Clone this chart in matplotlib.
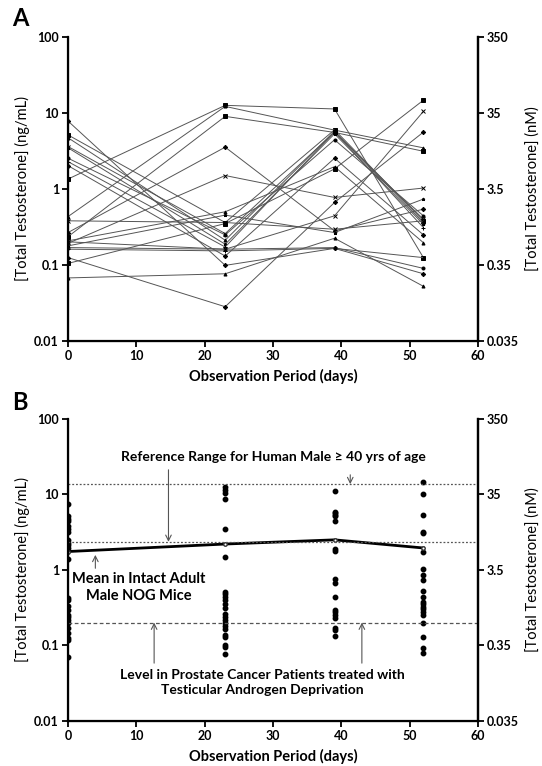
import matplotlib
matplotlib.use("Agg")
import matplotlib.pyplot as plt
from matplotlib.ticker import NullLocator, FixedLocator, FixedFormatter

plt.rcParams["font.family"] = ["Lato", "DejaVu Sans"]

# Observation days
days = [0, 23, 39, 52]

# Panel A: one value per mouse at each day (ng/mL)
a_day0 = [7.76, 5.1, 4.68, 3.59, 3.45, 2.52, 2.27, 2.01, 1.34, 0.43, 0.378,
          0.265, 0.234, 0.206, 0.191, 0.177, 0.168, 0.16, 0.124, 0.104, 0.067, 0.2]
a_day23 = [0.098, 0.359, 0.21, 0.257, 0.186, 0.247, 0.171, 0.13, 12.5, 12.1, 0.359,
           3.52, 8.95, 0.497, 1.49, 0.449, 0.16, 0.152, 0.028, 0.348, 0.076, 0.16]
a_day39 = [0.164, 5.96, 5.72, 5.55, 5.27, 4.40, 5.6, 2.52, 11.2, 5.9, 0.293,
           0.279, 5.5, 1.95, 0.767, 0.265, 0.168, 0.164, 0.659, 1.82, 0.223, 0.44]
a_day52 = [0.076, 0.378, 0.359, 0.397, 0.341, 0.44, 0.308, 0.247, 0.124, 3.45, 0.378,
           0.538, 3.11, 0.195, 1.02, 0.73, 0.0895, 0.124, 5.55, 14.6, 0.052, 10.4]

# Panel B: individual values per day (ng/mL)
b_day0 = [7.4, 5.1, 4.7, 4.4, 3.8, 3.5, 3.2, 2.5, 2.3, 2.15, 1.94, 1.4, 0.43, 0.40,
          0.33, 0.29, 0.25, 0.235, 0.217, 0.196, 0.168, 0.144, 0.124, 0.118, 0.069]
b_day23 = [12.5, 11.5, 10.4, 8.8, 3.5, 1.46, 0.51, 0.475, 0.434, 0.40, 0.354, 0.316,
           0.26, 0.24, 0.217, 0.196, 0.18, 0.163, 0.137, 0.13, 0.10, 0.096, 0.077]
b_day39 = [11.0, 5.9, 5.65, 5.4, 5.1, 4.4, 1.88, 1.79, 0.75, 0.665, 0.44, 0.294,
           0.274, 0.253, 0.228, 0.168, 0.16, 0.133]
b_day52 = [14.4, 10.1, 5.4, 3.2, 3.07, 1.75, 1.02, 0.86, 0.74, 0.53, 0.44, 0.38,
           0.354, 0.326, 0.30, 0.28, 0.253, 0.196, 0.128, 0.091, 0.078]
b_mean = [1.75, 2.2, 2.5, 1.95]

ref_high = 13.7
ref_low = 2.35
castrate_level = 0.2

y_ticks = [0.01, 0.1, 1, 10, 100]
y_labels = ["0.01", "0.1", "1", "10", "100"]
nm_ticks = [0.035, 0.35, 3.5, 35, 350]
nm_labels = ["0.035", "0.35", "3.5", "35", "350"]
x_ticks = [0, 10, 20, 30, 40, 50, 60]

markers = ["D", "s", "^", "x", "*", "o", "+", "D", "s", "^", "x"]


def style_axes(ax):
    ax.set_yscale("log")
    ax.set_ylim(0.01, 100)
    ax.set_xlim(0, 60)
    ax.yaxis.set_major_locator(FixedLocator(y_ticks))
    ax.yaxis.set_major_formatter(FixedFormatter(y_labels))
    ax.yaxis.set_minor_locator(NullLocator())
    ax.set_xticks(x_ticks)
    ax.spines["top"].set_visible(False)
    for s in ["left", "bottom", "right"]:
        ax.spines[s].set_linewidth(1.6)
    ax.tick_params(direction="out", length=4, width=1.3, labelsize=9, pad=2.5)
    for lab in ax.get_xticklabels() + ax.get_yticklabels():
        lab.set_fontweight("bold")
    ax.set_ylabel("[Total Testosterone] (ng/mL)", fontsize=10.5, labelpad=3)
    ax.set_xlabel("Observation Period (days)", fontsize=10.5, fontweight="bold", labelpad=5)

    tw = ax.twinx()
    tw.set_yscale("log")
    tw.set_ylim(0.035, 350)
    tw.yaxis.set_major_locator(FixedLocator(nm_ticks))
    tw.yaxis.set_major_formatter(FixedFormatter(nm_labels))
    tw.yaxis.set_minor_locator(NullLocator())
    tw.spines["top"].set_visible(False)
    tw.spines["right"].set_linewidth(1.6)
    tw.tick_params(direction="out", length=4, width=1.3, labelsize=9, pad=2)
    for lab in tw.get_yticklabels():
        lab.set_fontweight("bold")
    tw.set_ylabel("[Total Testosterone] (nM)", fontsize=10.5, labelpad=5)
    return tw


fig = plt.figure(figsize=(5.42, 7.66), dpi=100)

# Panel A
axA = fig.add_axes([0.1255, 0.5552, 0.7565, 0.3969])
for i, vals in enumerate(zip(a_day0, a_day23, a_day39, a_day52)):
    axA.plot(days, vals, color="#555555", lw=0.7,
             marker=markers[i % len(markers)], ms=2.2, mfc="black", mec="black", mew=0.7)
style_axes(axA)
fig.text(0.022, 0.976, "A", fontsize=17, fontweight="bold", va="center")

# Panel B
axB = fig.add_axes([0.1255, 0.0591, 0.7565, 0.3939])
for d, vals in zip(days, [b_day0, b_day23, b_day39, b_day52]):
    axB.plot([d] * len(vals), vals, "o", color="black", ms=3.2, ls="none")
axB.plot(days, b_mean, color="black", lw=2.0, marker="o", ms=2.5, mfc="white", mec="#333")
axB.axhline(ref_high, color="#555", lw=0.9, ls=(0, (1.5, 1.5)))
axB.axhline(ref_low, color="#555", lw=0.9, ls=(0, (1.5, 1.5)))
axB.axhline(castrate_level, color="#555", lw=0.9, ls=(0, (3, 2)))
style_axes(axB)
fig.text(0.022, 0.474, "B", fontsize=17, fontweight="bold", va="center")

arrow = dict(arrowstyle="->", color="#555", lw=0.8, shrinkA=0, shrinkB=0)
axB.text(30.0, 31.3, "Reference Range for Human Male \u2265 40 yrs of age",
         ha="center", va="center", fontsize=10, fontweight="bold")
axB.annotate("", xy=(14.7, ref_low), xytext=(14.7, 21.2), arrowprops=arrow)
axB.annotate("", xy=(41.3, ref_high), xytext=(41.3, 18.2), arrowprops=arrow)
axB.text(10.3, 0.59, "Mean in Intact Adult\nMale NOG Mice", ha="center", va="center",
         fontsize=10.5, fontweight="bold", linespacing=1.3)
axB.annotate("", xy=(4.0, 1.58), xytext=(4.0, 1.05), arrowprops=arrow)
axB.text(28.5, 0.032, "Level in Prostate Cancer Patients treated with\nTesticular Androgen Deprivation",
         ha="center", va="center", fontsize=10, fontweight="bold", linespacing=1.3)
axB.annotate("", xy=(12.6, castrate_level), xytext=(12.6, 0.058), arrowprops=arrow)
axB.annotate("", xy=(43.0, castrate_level), xytext=(43.0, 0.058), arrowprops=arrow)

fig.savefig("out.png", dpi=100)
